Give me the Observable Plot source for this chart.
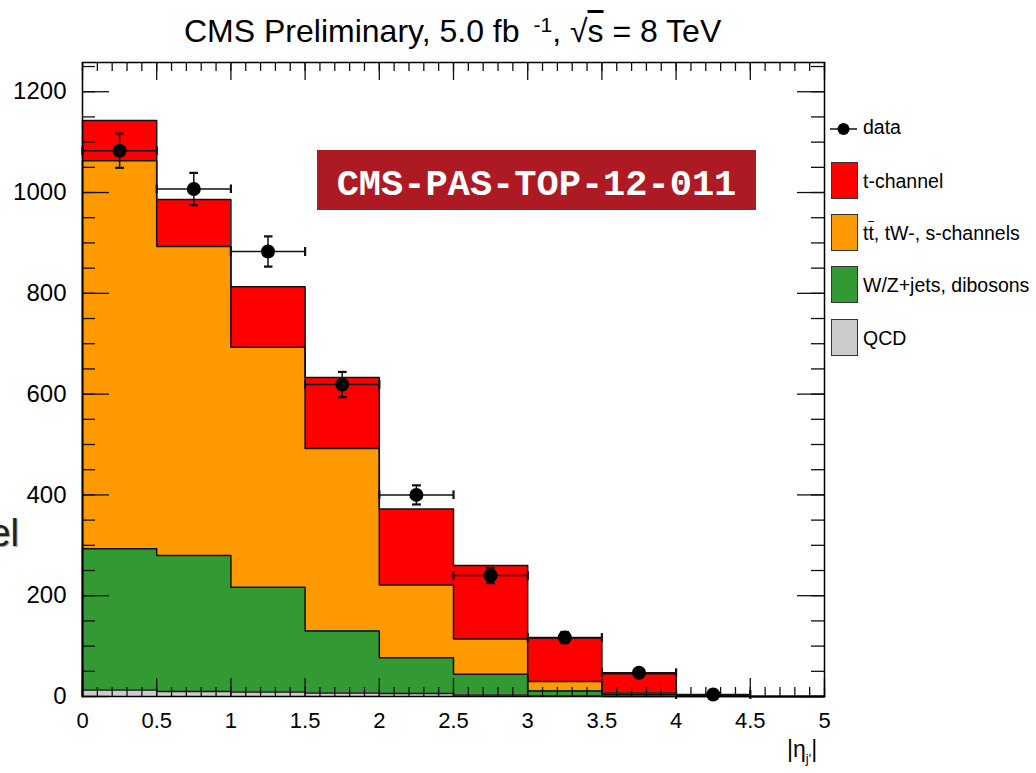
<!DOCTYPE html>
<html>
<head>
<meta charset="utf-8">
<script src="https://cdn.jsdelivr.net/npm/d3@7"></script>
<script src="https://cdn.jsdelivr.net/npm/@observablehq/plot@0.6"></script>
<style>
  html, body { margin: 0; padding: 0; background: #fff; }
  #wrap { position: relative; width: 1036px; height: 773px; overflow: hidden; font-family: "Liberation Sans", Arial, sans-serif; color: #000; }
  #chart { position: absolute; left: 0; top: 0; }
  .abs { position: absolute; white-space: nowrap; }
  #title { left: 184px; top: 11px; font-size: 32px; line-height: 40px; }
  #title sup { font-size: 21px; position: relative; top: -10px; vertical-align: baseline; margin-left: 14px; }
  .ov { text-decoration: overline; }
  #tag { left: 317px; top: 150px; width: 439px; height: 60px; background: #ad1a23; color: #fff;
         font-family: "Liberation Mono", "DejaVu Sans Mono", monospace; font-weight: bold; font-size: 37px;
         line-height: 70px; text-align: center; overflow: visible; }
  #el { right: 1017px; top: 510px; font-size: 38px; line-height: 46px; color: #222; text-shadow: 1px 1px 1px #999; }
  #xlabel { left: 787px; top: 735px; font-size: 23px; line-height: 28px; }
  #xlabel sub { font-size: 13px; }
  .leg { position: absolute; left: 830px; font-size: 19.5px; line-height: 24px; }
  .box { position: absolute; left: 831px; width: 25px; height: 35px; border: 1.5px solid #333; }
</style>
</head>
<body>
<div id="wrap">
  <div id="chart"></div>
  <div id="title" class="abs">CMS Preliminary, 5.0 fb<sup>-1</sup>, √<span class="ov">s</span> = 8 TeV</div>
  <div id="tag" class="abs">CMS-PAS-TOP-12-011</div>
  <div id="el" class="abs">el</div>
  <div id="xlabel" class="abs">|η<sub>j'</sub>|</div>
  <div id="legend"></div>
</div>
<script>
// ---- data ----
const binEdges = [0, 0.5, 1, 1.5, 2, 2.5, 3, 3.5, 4, 4.5, 5];
const processes = ["QCD", "W/Z+jets, dibosons", "tt̄, tW-, s-channels", "t-channel"];
const processColors = ["#cccccc", "#339933", "#ff9900", "#ff0000"];
const qcd      = [13, 10, 9, 7, 6, 3, 1, 0, 0, 0];
const wzjets   = [280, 270, 208, 123, 71, 41, 10, 4, 0.5, 0];
const ttbar    = [770, 613, 476, 362, 144, 70, 19, 3, 0.5, 0];
const tchannel = [80, 93, 120, 141, 151, 146, 86, 38, 2, 0];
const dataX    = [0.25, 0.75, 1.25, 1.75, 2.25, 2.75, 3.25, 3.75, 4.25];
const dataY    = [1083, 1007, 883, 619, 400, 240, 117, 47, 4];
const dataErr  = [34, 32, 30, 25, 19, 15, 11, 7, 2];
const binHalfWidth = 0.25;
const yTicks = [0, 200, 400, 600, 800, 1000, 1200];
const yMinorTicks = d3.range(0, 1251, 50);
const xTicks = [0, 0.5, 1, 1.5, 2, 2.5, 3, 3.5, 4, 4.5, 5];
const xMinorTicks = d3.range(0, 51).map(i => i / 10);
const yMax = 1258;

// ---- derived tables ----
const series = [qcd, wzjets, ttbar, tchannel];
const rects = [];
const cum = new Array(binEdges.length - 1).fill(0);
const outlines = [];
series.forEach((vals, s) => {
  const lower = cum.slice();
  vals.forEach((v, i) => {
    cum[i] += v;
    if (v > 0) rects.push({process: processes[s], x1: binEdges[i], x2: binEdges[i + 1], y1: lower[i], y2: cum[i]});
  });
  outlines.push({layer: s, x: binEdges[0], y: 0});
  cum.forEach((c, i) => outlines.push({layer: s, x: binEdges[i], y: c}));
  outlines.push({layer: s, x: binEdges[binEdges.length - 1], y: cum[cum.length - 1]});
});
const points = dataX.map((x, i) => ({x, y: dataY[i], lo: dataY[i] - dataErr[i], hi: dataY[i] + dataErr[i], xlo: x - binHalfWidth, xhi: x + binHalfWidth}));

const W = 1036, H = 773, mL = 82, mR = 212, mT = 62, mB = 77;
const fW = W - mL - mR, fH = H - mT - mB;
const ink = "#111";

const chart = Plot.plot({
  width: W, height: H,
  marginLeft: mL, marginRight: mR, marginTop: mT, marginBottom: mB,
  style: {fontFamily: "'Liberation Sans', Arial, sans-serif", color: "#000", background: "transparent"},
  x: {domain: [0, 5], label: null},
  y: {domain: [0, yMax], label: null},
  color: {domain: processes, range: processColors},
  marks: [
    Plot.rect(rects, {x1: "x1", x2: "x2", y1: "y1", y2: "y2", fill: "process", shapeRendering: "crispEdges"}),
    Plot.line(outlines, {x: "x", y: "y", z: "layer", curve: "step-after", stroke: ink, strokeWidth: 1.5}),
    // ROOT-style inner ticks
    Plot.tickY(yMinorTicks, {y: d => d, insetRight: fW - 13, stroke: ink, strokeWidth: 1.3}),
    Plot.tickY(yTicks, {y: d => d, insetRight: fW - 27, stroke: ink, strokeWidth: 1.3}),
    Plot.tickY(yMinorTicks, {y: d => d, insetLeft: fW - 13, stroke: ink, strokeWidth: 1.3}),
    Plot.tickY(yTicks, {y: d => d, insetLeft: fW - 27, stroke: ink, strokeWidth: 1.3}),
    Plot.tickX(xMinorTicks, {x: d => d, insetTop: fH - 9, stroke: ink, strokeWidth: 1.3}),
    Plot.tickX(xTicks, {x: d => d, insetTop: fH - 18, stroke: ink, strokeWidth: 1.3}),
    Plot.tickX(xMinorTicks, {x: d => d, insetBottom: fH - 9, stroke: ink, strokeWidth: 1.3}),
    Plot.tickX(xTicks, {x: d => d, insetBottom: fH - 18, stroke: ink, strokeWidth: 1.3}),
    Plot.axisY(yTicks, {tickSize: 0, tickPadding: 16, fontSize: 24, tickFormat: d => String(d)}),
    Plot.axisX(xTicks, {tickSize: 0, tickPadding: 16, fontSize: 22, tickFormat: d => String(d)}),
    // data with error bars
    Plot.link(points, {x1: "xlo", x2: "xhi", y1: "y", y2: "y", stroke: ink, strokeWidth: 1.5, marker: "tick"}),
    Plot.link(points, {x1: "x", x2: "x", y1: "lo", y2: "hi", stroke: ink, strokeWidth: 1.5, marker: "tick"}),
    Plot.dot(points, {x: "x", y: "y", r: 7, fill: "#000", stroke: "none"}),
    Plot.frame({stroke: "#000", strokeWidth: 1.5})
  ]
});
document.getElementById("chart").appendChild(chart);

// ---- legend ----
const legend = document.getElementById("legend");
const dataItem = document.createElement("div");
dataItem.className = "leg";
dataItem.style.top = "116px";
dataItem.innerHTML = '<svg width="30" height="24" style="vertical-align:top"><line x1="0" y1="13" x2="27" y2="13" stroke="#111" stroke-width="1.5"/><circle cx="13.5" cy="13" r="6" fill="#000"/></svg><span style="position:relative;left:3px;top:-1px">data</span>';
legend.appendChild(dataItem);
const boxTops = [162, 214, 266, 319];
const legendOrder = [3, 2, 1, 0];
legendOrder.forEach((s, k) => {
  const b = document.createElement("div");
  b.className = "box";
  b.style.top = boxTops[k] + "px";
  b.style.background = processColors[s];
  legend.appendChild(b);
  const t = document.createElement("div");
  t.className = "leg";
  t.style.left = "863px";
  t.style.top = (boxTops[k] + 7) + "px";
  if (s === 2) t.innerHTML = 't<span class="ov">t</span>, tW-, s-channels';
  else t.textContent = processes[s];
  legend.appendChild(t);
});
</script>
</body>
</html>
